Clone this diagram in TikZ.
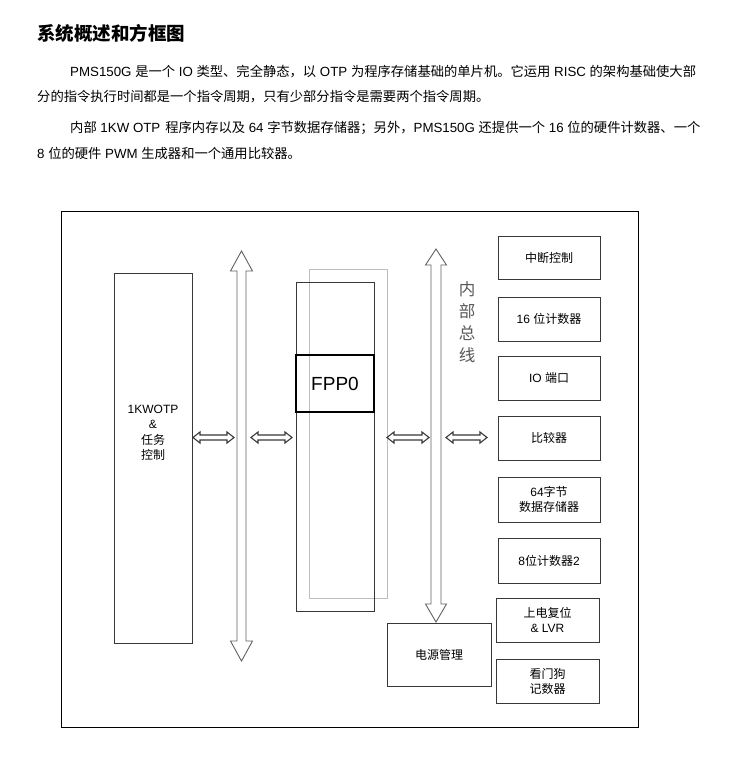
\documentclass[tikz,border=0pt]{standalone}
\usepackage{fontspec}
\setmainfont{Liberation Sans}
\newfontfamily\cjk{Noto Sans CJK SC}
\definecolor{boxc}{gray}{0.22}
\definecolor{arrc}{gray}{0.38}
\definecolor{harrc}{gray}{0.22}
\definecolor{lgray}{gray}{0.74}
\definecolor{busc}{gray}{0.35}
\tikzset{
  blk/.style={draw=boxc, line width=0.9pt, rectangle, inner sep=0pt, align=center, font=\fontsize{12}{15}\selectfont},
  para/.style={anchor=west, inner sep=0pt, font=\fontsize{13.3}{16}\selectfont},
  barrow/.style={draw=arrc, line width=0.8pt, fill=white, line join=miter},
  harrow/.style={draw=harrc, line width=1.1pt, fill=white, line join=miter},
}
\newcommand{\hdarrow}[3]{% x1, x2, y
  \draw[harrow] (#1,#3) -- (#1+7,#3-5.5) -- (#1+7,#3-2.5) -- (#2-7,#3-2.5) -- (#2-7,#3-5.5) -- (#2,#3)
   -- (#2-7,#3+5.5) -- (#2-7,#3+2.5) -- (#1+7,#3+2.5) -- (#1+7,#3+5.5) -- cycle;}
\begin{document}
\begin{tikzpicture}[x=1pt,y=-1pt]
\useasboundingbox (0,0) rectangle (740,780);
\fill[white] (0,0) rectangle (740,780);

% title and text
\node[anchor=west, inner sep=0pt, font=\fontsize{18.5}{20}\selectfont\cjk\bfseries] (title) at (37,33) {系统概述和方框图};
\node[para] (l1) at (70,72) {PMS150G {\cjk 是一个} IO {\cjk 类型、完全静态，以} OTP {\cjk 为程序存储基础的单片机。它运用} RISC {\cjk 的架构基础使大部}};
\node[para] (l2) at (37,97) {{\cjk 分的指令执行时间都是一个指令周期，只有少部分指令是需要两个指令周期。}};
\node[para] (l3) at (70,128) {{\cjk 内部} 1KW OTP\hspace{5pt}{\cjk 程序内存以及} 64 {\cjk 字节数据存储器；另外，}PMS150G {\cjk 还提供一个} 16 {\cjk 位的硬件计数器、一个}};
\node[para] (l4) at (37,153) {8 {\cjk 位的硬件} PWM {\cjk 生成器和一个通用比较器。}};

% outer frame
\draw[black, line width=1pt] (61,211) rectangle (638,727);

% left OTP box
\node[blk, minimum width=78pt, minimum height=370pt] (otp) at (153,458) {};
\node[inner sep=0pt, align=center, font=\fontsize{12}{15.5}\selectfont] (otptxt) at (153,433) {1KWOTP\\\&\\{\cjk 任务}\\{\cjk 控制}};

% left bus
\draw[barrow, line width=0.9pt] (237,271) -- (230.5,271) -- (241.5,251) -- (252.5,271) -- (246,271) -- (246,641) -- (252.5,641) -- (241.5,661) -- (230.5,641) -- (237,641) -- cycle;

% FPP0 column
\draw[lgray, line width=1pt] (309,269) rectangle (387,598);
\node[blk, minimum width=78pt, minimum height=329pt] (col) at (335,446.5) {};
\node[draw=black, line width=1.6pt, rectangle, inner sep=0pt, minimum width=78pt, minimum height=57pt, font=\fontsize{19}{20}\selectfont] (fpp) at (335,383.5) {FPP0};

% right bus
\draw[barrow, line width=0.9pt] (431,265) -- (425.5,265) -- (436,249) -- (446.5,265) -- (441,265) -- (441,604) -- (446.5,604) -- (436,622) -- (425.5,604) -- (431,604) -- cycle;
\node[inner sep=0pt, align=center, text=busc, font=\fontsize{16.5}{22}\selectfont\cjk] (bustxt) at (467,322) {内\\部\\总\\线};

% horizontal double arrows
\hdarrow{193}{234}{437.5}
\hdarrow{251}{292}{437.5}
\hdarrow{387}{429}{437.5}
\hdarrow{446}{487}{437.5}

% right column boxes
\node[blk, minimum width=102pt, minimum height=43pt] (irq) at (549,257.5) {{\cjk 中断控制}};
\node[blk, minimum width=102pt, minimum height=44pt] (t16) at (549,319) {16 {\cjk 位计数器}};
\node[blk, minimum width=102pt, minimum height=44pt] (io) at (549,378) {IO {\cjk 端口}};
\node[blk, minimum width=102pt, minimum height=44pt] (cmp) at (549,438) {{\cjk 比较器}};
\node[blk, minimum width=102pt, minimum height=45pt] (ram) at (549,499.5) {64{\cjk 字节}\\{\cjk 数据存储器}};
\node[blk, minimum width=102pt, minimum height=45pt] (t8) at (549,560.5) {8{\cjk 位计数器}2};
\node[blk, minimum width=103pt, minimum height=44pt] (por) at (547.5,620) {{\cjk 上电复位}\\\& LVR};
\node[blk, minimum width=103pt, minimum height=44pt] (wdt) at (547.5,681) {{\cjk 看门狗}\\{\cjk 记数器}};
\node[blk, minimum width=104pt, minimum height=63pt] (pwr) at (439,654.5) {{\cjk 电源管理}};
\end{tikzpicture}
\end{document}
